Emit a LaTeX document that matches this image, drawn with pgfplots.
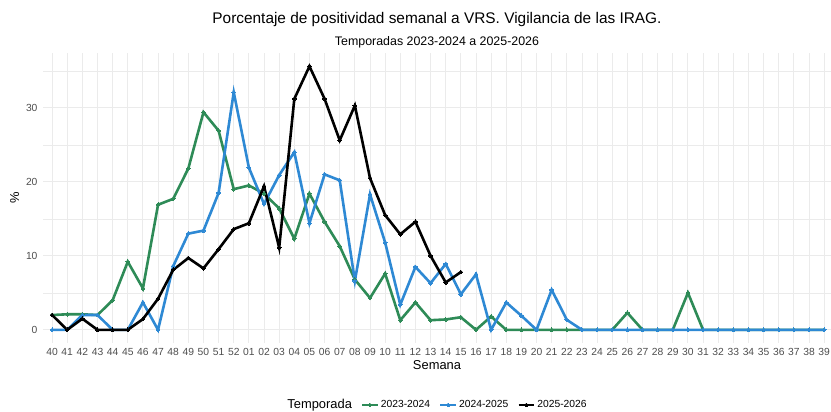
\documentclass[border=0pt]{standalone}
\usepackage{pgfplots}
\pgfplotsset{compat=1.18}
\usepackage{fontspec}
\setmainfont{Liberation Sans}
\definecolor{cgreen}{RGB}{46,139,87}
\definecolor{cblue}{RGB}{46,137,212}
\definecolor{gridc}{RGB}{235,235,235}
\definecolor{tickc}{RGB}{77,77,77}

\pgfplotstableread{
x y
0 2.0
1 2.1
2 2.1
3 2.0
4 4.0
5 9.2
6 5.6
7 16.9
8 17.7
9 21.8
10 29.4
11 26.9
12 19.0
13 19.5
14 18.4
15 16.4
16 12.3
17 18.4
18 14.6
19 11.3
20 6.8
21 4.3
22 7.6
23 1.3
24 3.7
25 1.3
26 1.4
27 1.7
28 0
29 1.8
30 0
31 0
32 0
33 0
34 0
35 0
36 0
37 0
38 2.3
39 0
40 0
41 0
42 5.0
43 0
44 0
45 0
46 0
47 0
48 0
49 0
50 0
51 0
}\greendata

\pgfplotstableread{
x y
0 0
1 0
2 2.0
3 2.0
4 0
5 0
6 3.7
7 0
8 8.6
9 13.0
10 13.4
11 18.5
12 32.1
13 21.9
14 17.0
15 20.9
16 24.0
17 14.4
18 21.0
19 20.2
20 6.6
21 18.3
22 11.8
23 3.4
24 8.5
25 6.3
26 8.9
27 4.8
28 7.5
29 0
30 3.7
31 1.9
32 0
33 5.4
34 1.35
35 0
36 0
37 0
38 0
39 0
40 0
41 0
42 0
43 0
44 0
45 0
46 0
47 0
48 0
49 0
50 0
51 0
}\bluedata

\pgfplotstableread{
x y
0 2.0
1 0
2 1.5
3 0
4 0
5 0
6 1.45
7 4.2
8 8.1
9 9.7
10 8.3
11 10.9
12 13.6
13 14.4
14 19.4
15 11.1
16 31.2
17 35.6
18 31.2
19 25.6
20 30.3
21 20.5
22 15.5
23 12.9
24 14.6
25 10.0
26 6.4
27 7.8
}\blackdata

\begin{document}
\begin{tikzpicture}
\useasboundingbox (-43pt,-69pt) rectangle (788pt,343pt);
\begin{axis}[
  at={(0pt,0pt)}, anchor=south west,
  scale only axis, width=788pt, height=290pt,
  xmin=-0.6, xmax=51.45, ymin=-1.78, ymax=37.4,
  axis line style={draw=none},
  tick style={draw=none},
  xtick={0,...,51},
  xticklabels={40,41,42,43,44,45,46,47,48,49,50,51,52,01,02,03,04,05,06,07,08,09,10,11,12,13,14,15,16,17,18,19,20,21,22,23,24,25,26,27,28,29,30,31,32,33,34,35,36,37,38,39},
  ytick={0,10,20,30}, minor ytick={5,15,25,35},
  grid=both,
  major grid style={gridc, line width=0.9pt},
  minor grid style={gridc, line width=0.5pt},
  /pgf/number format/assume math mode=true,
  ticklabel style={font=\fontsize{10.3}{12}\selectfont, text=tickc},
  yticklabel style={xshift=-2pt},
  xticklabel style={yshift=-2pt},
  xlabel={Semana}, ylabel={\%},
  label style={font=\fontsize{12.9}{14}\selectfont},
  xlabel style={yshift=2pt},
  legend columns=4,
  legend style={at={(axis description cs:0.5,-0.2138)}, anchor=center, draw=none, fill=none,
    font=\fontsize{10.3}{12}\selectfont,
    /tikz/every even column/.append style={column sep=7pt}},
  legend image code/.code={\draw[mark repeat=2,mark phase=2] plot coordinates {(0cm,0cm)(0.27cm,0cm)(0.54cm,0cm)};},
  every axis plot/.append style={line width=2.6pt, mark=*, mark size=1.9pt},
]
\addlegendimage{empty legend}
\addlegendentry{\fontsize{12.9}{14}\selectfont Temporada}
\addplot[cgreen, mark options={fill=cgreen, draw=cgreen, line width=0pt}] table[x=x,y=y] {\greendata};
\addlegendentry{2023-2024}
\addplot[cblue, mark options={fill=cblue, draw=cblue, line width=0pt}] table[x=x,y=y] {\bluedata};
\addlegendentry{2024-2025}
\addplot[black, mark options={fill=black, draw=black, line width=0pt}] table[x=x,y=y] {\blackdata};
\addlegendentry{2025-2026}
\end{axis}
\node[font=\fontsize{15.4}{17}\selectfont] at (394pt,323pt) {Porcentaje de positividad semanal a VRS. Vigilancia de las IRAG.};
\node[font=\fontsize{12.4}{14}\selectfont] at (394pt,301pt) {Temporadas 2023-2024 a 2025-2026};
\end{tikzpicture}
\end{document}
